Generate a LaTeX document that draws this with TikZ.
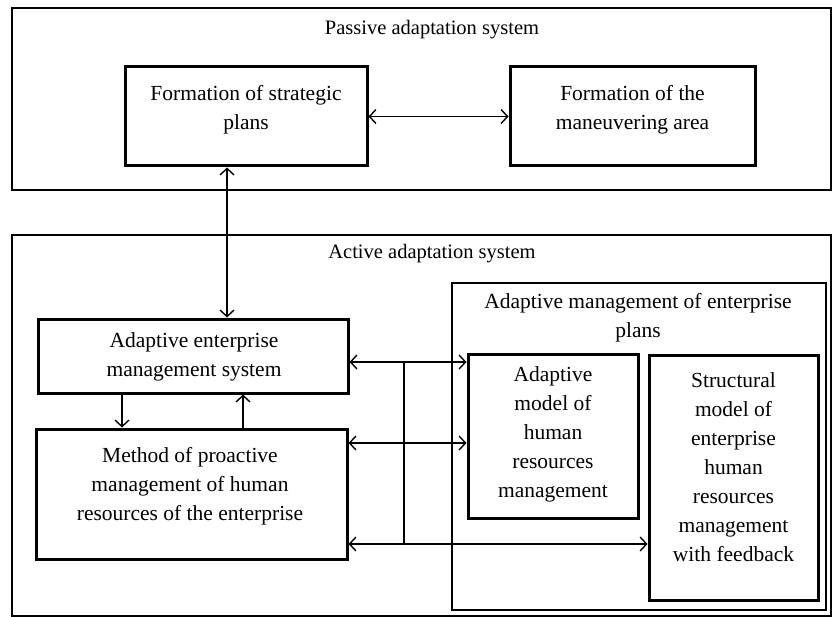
\documentclass[tikz,border=0pt]{standalone}
\usepackage{fontspec}
\setmainfont{Liberation Serif}
\usetikzlibrary{arrows.meta}
\begin{document}
\begin{tikzpicture}[x=1pt,y=-1pt,
  outerbox/.style={draw, line width=2.6pt, inner sep=0pt},
  innerbox/.style={draw, line width=3pt, inner sep=0pt},
  boxtext/.style={align=center, font=\fontsize{21.5}{29}\selectfont, inner sep=0pt},
  titletext/.style={align=center, font=\fontsize{20.5}{24}\selectfont, inner sep=0pt},
  conn/.style={line width=1.4pt, {Straight Barb[length=6.5pt,width=14pt,line width=1.4pt]}-{Straight Barb[length=6.5pt,width=14pt,line width=1.4pt]}},
  oneway/.style={line width=1.4pt, -{Straight Barb[length=6.5pt,width=14pt,line width=1.4pt]}},
  plain/.style={line width=1.4pt}]
\useasboundingbox (0,0) rectangle (834,617);
\fill[white] (0,0) rectangle (834,617);
% outer systems
\node[outerbox, minimum width=819pt, minimum height=182pt] (passive) at (421.5,99) {};
\node[titletext] (passive-t) at (432,30) {Passive adaptation system};
\node[outerbox, minimum width=819pt, minimum height=381pt] (active) at (421.5,425.5) {};
\node[titletext] (active-t) at (432,254) {Active adaptation system};
% passive contents
\node[innerbox, minimum width=242pt, minimum height=99pt] (fsp) at (246,116.5) {};
\node[boxtext] (fsp-t) at (246,110) {Formation of strategic\\plans};
\node[innerbox, minimum width=245pt, minimum height=99pt] (fma) at (632.5,116.5) {};
\node[boxtext] (fma-t) at (632.5,110) {Formation of the\\maneuvering area};
% active contents
\node[innerbox, minimum width=310pt, minimum height=74pt] (aems) at (193,356) {};
\node[boxtext] (aems-t) at (194,357) {Adaptive enterprise\\management system};
\node[innerbox, minimum width=311pt, minimum height=130pt] (method) at (191.5,494) {};
\node[boxtext] (method-t) at (190,486) {Method of proactive\\management of human\\resources of the enterprise};
\node[outerbox, minimum width=374pt, minimum height=327pt] (amep) at (639,446.5) {};
\node[boxtext] (amep-t) at (638,318) {Adaptive management of enterprise\\plans};
\node[innerbox, minimum width=170pt, minimum height=164pt] (amhr) at (553,436) {};
\node[boxtext] (amhr-t) at (553,434) {Adaptive\\model of\\human\\resources\\management};
\node[innerbox, minimum width=169pt, minimum height=245pt] (smhr) at (733.5,477.5) {};
\node[boxtext] (smhr-t) at (733.5,467) {Structural\\model of\\enterprise\\human\\resources\\management\\with feedback};
% helper coordinates
\coordinate (xv) at (227,0);
\coordinate (xdown) at (122,0);
\coordinate (xup) at (243,0);
\coordinate (y1) at (0,362);
\coordinate (y2) at (0,443);
\coordinate (y3) at (0,544);
\coordinate (xbus) at (404,0);
% connectors
\draw[conn] (fsp.east) -- (fma.west);
\draw[conn] (fsp.south -| xv) -- (aems.north -| xv);
\draw[oneway] (aems.south -| xdown) -- (method.north -| xdown);
\draw[oneway] (method.north -| xup) -- (aems.south -| xup);
\draw[conn] (aems.east |- y1) -- (amhr.west |- y1);
\draw[conn] (method.east |- y2) -- (amhr.west |- y2);
\draw[conn] (method.east |- y3) -- (smhr.west |- y3);
\draw[plain] (xbus |- y1) -- (xbus |- y3);
\end{tikzpicture}
\end{document}
